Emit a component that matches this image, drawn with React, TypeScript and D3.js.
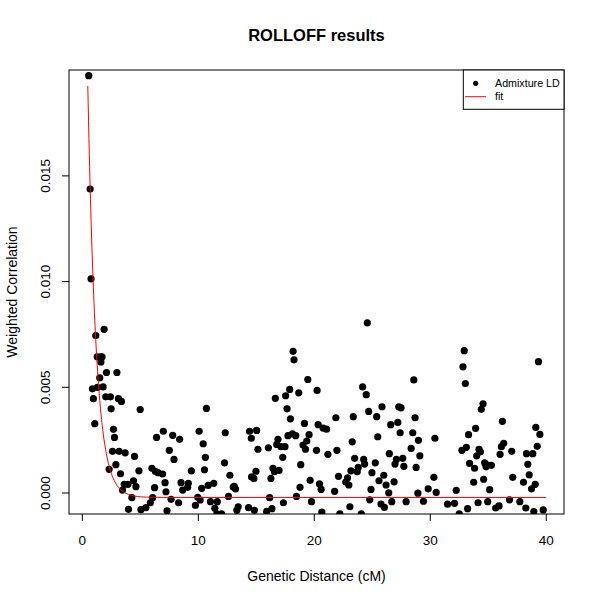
import React, { useEffect, useRef } from 'react';
import * as d3 from 'd3';

// Admixture LD points (distance in cM, weighted correlation)
const distanceCM = [
  0.55, 0.67, 0.75,
  1.88, 1.16, 1.28, 1.56, 1.70, 1.60, 2.08, 2.98, 1.50, 0.87, 1.30, 1.79, 0.95, 2.02, 2.42, 3.11, 3.37,
  2.48, 4.99, 1.07, 2.68, 2.77, 6.98, 6.40, 7.79, 8.39, 10.07, 2.60, 3.17, 3.69, 4.50, 7.50, 7.90,
  2.89, 2.31, 3.29, 4.88, 6.00, 6.29, 6.52, 6.92, 9.40, 7.13, 8.51, 9.14, 3.61, 3.93, 4.62, 3.46,
  6.23, 7.21, 8.65, 9.08, 4.27, 6.06, 5.86, 7.65, 8.30, 9.95, 9.75, 3.98, 5.05, 5.48, 7.30, 4.41,
  18.17, 18.25, 19.44, 20.24, 17.88, 18.66, 17.53, 16.64, 17.65, 10.70, 17.94, 19.15, 20.33, 20.76,
  12.32, 14.42, 15.03, 14.57, 17.73, 18.11, 18.40, 19.55, 16.87, 16.76, 17.13, 17.47, 19.03, 19.35,
  19.24, 20.19, 16.04, 15.14, 10.42, 10.61, 10.53, 12.26, 12.72, 17.28, 18.83, 16.44, 16.56, 16.96,
  14.97, 14.59, 14.79, 16.26, 19.64, 20.45, 20.59, 18.77, 10.29, 10.85, 11.33, 13.01, 13.21, 13.10,
  10.16, 11.05, 11.63, 11.42, 12.60, 13.44, 13.32, 14.33, 14.83, 15.89, 16.35, 16.15, 17.34, 18.46,
  19.76, 20.65, 12.0, 11.6,
  24.57, 28.58, 24.17, 24.48, 24.69, 25.84, 25.38, 27.28, 27.48, 21.86, 23.36, 28.69, 21.05, 26.59,
  27.20, 27.40, 28.49, 25.47, 28.98, 30.40, 23.27, 21.95, 21.17, 28.35, 29.10, 26.47, 23.48, 24.26,
  24.34, 25.26, 27.08, 27.63, 26.96, 27.72, 28.78, 23.79, 23.70, 23.16, 24.97, 22.09, 25.99, 22.87,
  22.72, 22.98, 25.58, 26.19, 26.88, 30.31, 21.75, 24.89, 26.42, 28.93, 29.82, 30.51, 24.78, 25.75,
  26.04, 26.68, 27.92, 29.41, 31.49, 23.07, 22.2, 24.05,
  32.93, 32.82, 33.02, 39.33, 34.55, 34.40, 36.22, 33.91, 33.30, 39.10, 39.45, 33.11, 32.73, 34.20,
  34.32, 34.00, 36.13, 36.33, 36.02, 37.02, 39.22, 38.30, 38.84, 33.39, 33.82, 34.69, 34.81, 34.95,
  35.27, 38.41, 38.53, 37.11, 38.04, 39.05, 38.73, 33.74, 34.60, 35.12, 32.24, 32.09, 33.22, 34.12,
  34.95, 35.64, 35.93, 36.83, 37.72, 38.24, 38.93, 39.74, 32.5
];

const weightedCorr = [
  0.01974, 0.01438, 0.01013,
  0.00774, 0.00745, 0.00644, 0.00644, 0.00644, 0.00620, 0.00570, 0.00570, 0.00545, 0.00493, 0.00500, 0.00502, 0.00446, 0.00455, 0.00455, 0.00446, 0.00433,
  0.00398, 0.00395, 0.00328, 0.00301, 0.00263, 0.00292, 0.00263, 0.00273, 0.00254, 0.00292, 0.00197, 0.00197, 0.00190, 0.00173, 0.00202, 0.00159,
  0.00134, 0.00112, 0.00091, 0.00105, 0.00117, 0.00103, 0.00096, 0.00090, 0.00105, 0.00049, 0.00049, 0.00046, 0.00041, 0.00041, 0.00030, 0.00014,
  0.00025, 0.00006, 0.00014, 0.00027, -0.00022, -0.00022, -0.00046, -0.00030, -0.00046, -0.00020, -0.00058, -0.00077, -0.00079, -0.00069, -0.00084, 0.00058,
  0.00670, 0.00630, 0.00537, 0.00485, 0.00490, 0.00474, 0.00460, 0.00448, 0.00398, 0.00400, 0.00351, 0.00329, 0.00323, 0.00307,
  0.00285, 0.00292, 0.00296, 0.00259, 0.00271, 0.00280, 0.00271, 0.00276, 0.00254, 0.00230, 0.00219, 0.00219, 0.00227, 0.00246,
  0.00207, 0.00202, 0.00214, 0.00207, 0.00233, 0.00169, 0.00110, 0.00143, 0.00084, 0.00169, 0.00134, 0.00117, 0.00101, 0.00107,
  0.00103, 0.00076, 0.00069, 0.00069, 0.00060, 0.00043, 0.00017, 0.00027, 0.00022, 0.00036, 0.00046, 0.00028, 0.00019, 0.00032,
  -0.00033, -0.00041, -0.00041, -0.00072, -0.00016, -0.00065, -0.00082, -0.00069, -0.00082, -0.00087, -0.00074, -0.00022, -0.00046, -0.00016,
  -0.00041, -0.00090, -0.00099, -0.00099,
  0.00805, 0.00535, 0.00502, 0.00465, 0.00386, 0.00408, 0.00361, 0.00408, 0.00403, 0.00356, 0.00361, 0.00356, 0.00302, 0.00323,
  0.00334, 0.00285, 0.00285, 0.00266, 0.00249, 0.00259, 0.00242, 0.00202, 0.00183, 0.00211, 0.00176, 0.00186, 0.00164, 0.00159,
  0.00137, 0.00143, 0.00159, 0.00164, 0.00137, 0.00126, 0.00121, 0.00121, 0.00101, 0.00105, 0.00096, 0.00079, 0.00084, 0.00072,
  0.00052, 0.00038, 0.00058, 0.00038, 0.00053, 0.00074, 0.00008, 0.00017, 0.00001, -0.00001, 0.00020, 0.00003, -0.00032, -0.00052,
  -0.00068, -0.00041, -0.00041, -0.00039, -0.00053, -0.00065, -0.00099, -0.00099,
  0.00673, 0.00597, 0.00518, 0.00621, 0.00422, 0.00396, 0.00339, 0.00306, 0.00276, 0.00310, 0.00277, 0.00216, 0.00202, 0.00207,
  0.00195, 0.00176, 0.00219, 0.00235, 0.00183, 0.00197, 0.00221, 0.00186, 0.00186, 0.00140, 0.00117, 0.00143, 0.00124, 0.00132,
  0.00131, 0.00136, 0.00086, 0.00074, 0.00051, 0.00041, 0.00020, 0.00051, 0.00065, 0.00016, 0.00013, -0.00049, -0.00074, -0.00046,
  -0.00041, -0.00071, -0.00061, -0.00032, -0.00041, -0.00071, -0.00088, -0.00080, -0.00099
];

// exponential fit curve
const fitDistance = [0.47, 0.6, 0.8, 1.0, 1.25, 1.5, 1.75, 2.0, 2.25, 2.5, 2.75, 3.0, 3.5, 4.0, 4.5, 5.0, 6.0, 7.0, 40];
const fitCorr = [
  0.01925, 0.01601, 0.01205, 0.00906, 0.00632, 0.00439, 0.00303, 0.00207, 0.00140, 0.00092,
  0.00059, 0.00035, 0.00007, -0.00007, -0.00014, -0.00018, -0.00020, -0.00021, -0.00021
];

const xTicks = [0, 10, 20, 30, 40];
const yTicks = [0, 0.005, 0.01, 0.015];
const legendLabels = ['Admixture LD', 'fit'];

// R-style axis limits: data range padded by 4% on each side
const xLim = [0.43, 39.95];
const yLim = [-0.000215, 0.01923];

const FONT = '"Liberation Sans", Arial, Helvetica, sans-serif';

const App: React.FC = () => {
  const svgRef = useRef<SVGSVGElement>(null);

  useEffect(() => {
    if (!svgRef.current) return;
    const svg = d3.select(svgRef.current);
    svg.selectAll('*').remove();

    const width = 601;
    const height = 601;
    const plot = { left: 69, right: 564, top: 70, bottom: 514 };

    const pad = (lim: number[]) => {
      const r = lim[1] - lim[0];
      return [lim[0] - 0.04 * r, lim[1] + 0.04 * r];
    };

    const x = d3.scaleLinear().domain(pad(xLim)).range([plot.left, plot.right]);
    const y = d3.scaleLinear().domain(pad(yLim)).range([plot.bottom, plot.top]);

    svg.append('rect').attr('width', width).attr('height', height).attr('fill', '#fff');

    svg.append('defs')
      .append('clipPath')
      .attr('id', 'plot-clip')
      .append('rect')
      .attr('x', plot.left)
      .attr('y', plot.top)
      .attr('width', plot.right - plot.left)
      .attr('height', plot.bottom - plot.top);

    const inner = svg.append('g').attr('clip-path', 'url(#plot-clip)');

    // points
    inner.selectAll('circle.pt')
      .data(distanceCM.map((d, i) => ({ d, c: weightedCorr[i] })))
      .join('circle')
      .attr('class', 'pt')
      .attr('cx', p => x(p.d))
      .attr('cy', p => y(p.c))
      .attr('r', 3.6)
      .attr('fill', '#000');

    // fit line
    const line = d3.line<number>()
      .x((_, i) => x(fitDistance[i]))
      .y(v => y(v))
      .curve(d3.curveMonotoneX);

    inner.append('path')
      .attr('d', line(fitCorr) || '')
      .attr('fill', 'none')
      .attr('stroke', '#ff0000')
      .attr('stroke-width', 1);

    // box
    svg.append('rect')
      .attr('x', plot.left)
      .attr('y', plot.top)
      .attr('width', plot.right - plot.left)
      .attr('height', plot.bottom - plot.top)
      .attr('fill', 'none')
      .attr('stroke', '#000')
      .attr('stroke-width', 1);

    // x axis
    const xAxis = svg.append('g');
    xAxis.selectAll('line')
      .data(xTicks)
      .join('line')
      .attr('x1', d => x(d))
      .attr('x2', d => x(d))
      .attr('y1', plot.bottom)
      .attr('y2', plot.bottom + 7)
      .attr('stroke', '#000');
    xAxis.selectAll('text')
      .data(xTicks)
      .join('text')
      .attr('x', d => x(d))
      .attr('y', 544.5)
      .attr('text-anchor', 'middle')
      .style('font-family', FONT)
      .style('font-size', '13.5px')
      .text(d => String(d));

    // y axis
    const yAxis = svg.append('g');
    yAxis.selectAll('line')
      .data(yTicks)
      .join('line')
      .attr('x1', plot.left)
      .attr('x2', plot.left - 7)
      .attr('y1', d => y(d))
      .attr('y2', d => y(d))
      .attr('stroke', '#000');
    yAxis.selectAll('text')
      .data(yTicks)
      .join('text')
      .attr('transform', d => `translate(50,${y(d)}) rotate(-90)`)
      .attr('text-anchor', 'middle')
      .style('font-family', FONT)
      .style('font-size', '13.5px')
      .text(d => d3.format('.3f')(d));

    // title and axis titles
    svg.append('text')
      .attr('x', (plot.left + plot.right) / 2)
      .attr('y', 40.7)
      .attr('text-anchor', 'middle')
      .style('font-family', FONT)
      .style('font-size', '16.5px')
      .style('font-weight', 'bold')
      .text('ROLLOFF results');

    svg.append('text')
      .attr('x', (plot.left + plot.right) / 2)
      .attr('y', 580.5)
      .attr('text-anchor', 'middle')
      .style('font-family', FONT)
      .style('font-size', '14px')
      .text('Genetic Distance (cM)');

    svg.append('text')
      .attr('transform', `translate(16.5,${(plot.top + plot.bottom) / 2}) rotate(-90)`)
      .attr('text-anchor', 'middle')
      .style('font-family', FONT)
      .style('font-size', '14px')
      .text('Weighted Correlation');

    // legend (top right)
    const lg = svg.append('g');
    lg.append('rect')
      .attr('x', 463.3)
      .attr('y', plot.top)
      .attr('width', plot.right - 463.3)
      .attr('height', 39.3)
      .attr('fill', '#fff')
      .attr('stroke', '#000');
    lg.append('circle')
      .attr('cx', 475.7)
      .attr('cy', 83.3)
      .attr('r', 2.6)
      .attr('fill', '#000');
    lg.append('line')
      .attr('x1', 465)
      .attr('x2', 486)
      .attr('y1', 96.7)
      .attr('y2', 96.7)
      .attr('stroke', '#ff0000');
    lg.selectAll('text')
      .data(legendLabels)
      .join('text')
      .attr('x', 495)
      .attr('y', (_, i) => 87 + i * 13.3)
      .style('font-family', FONT)
      .style('font-size', '10.7px')
      .text(d => d);
  }, []);

  return (
    <svg
      ref={svgRef}
      width={601}
      height={601}
      style={{ position: 'absolute', left: 0, top: 0, display: 'block' }}
    />
  );
};

export default App;
